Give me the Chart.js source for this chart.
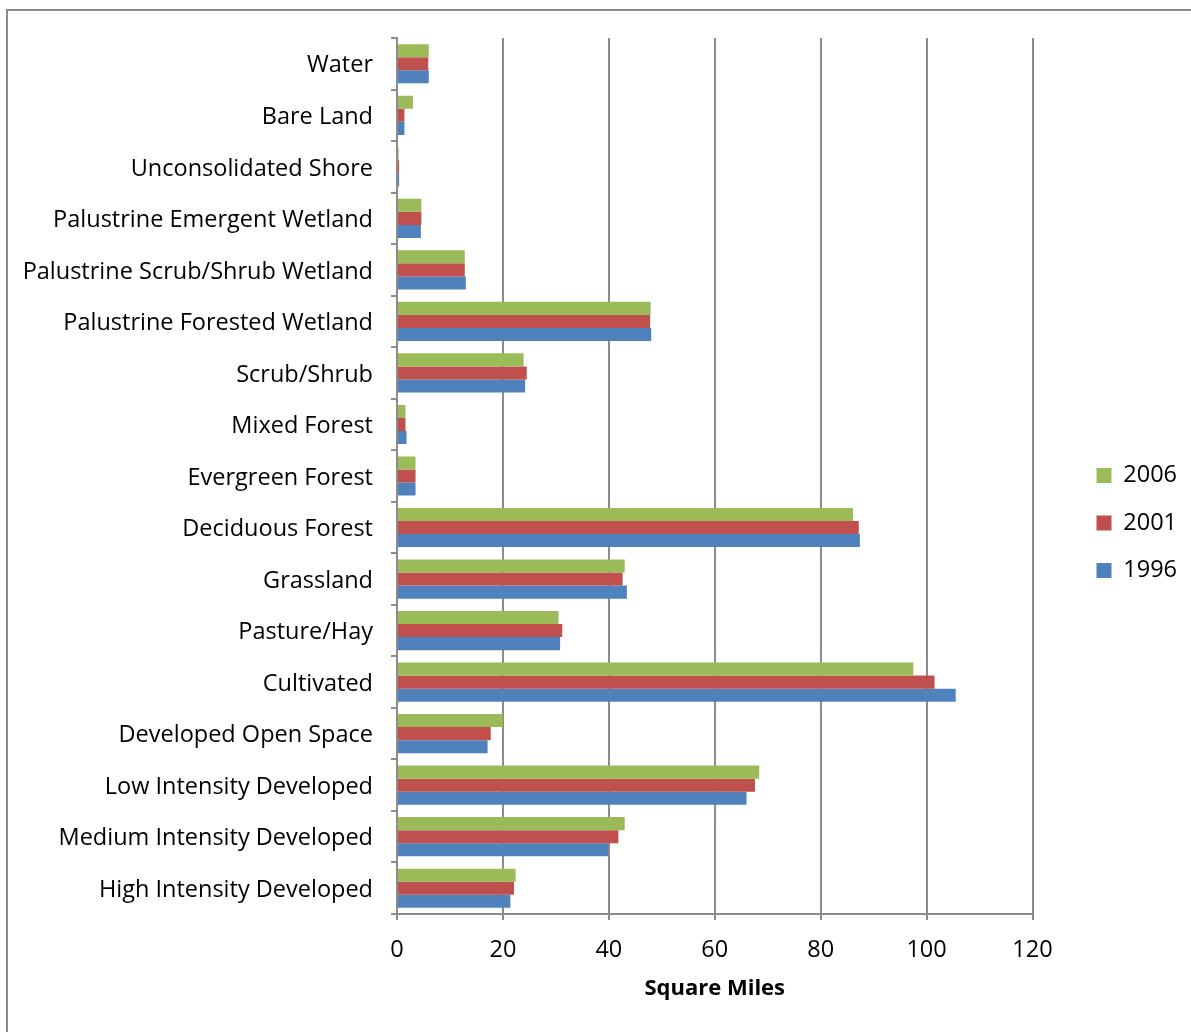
<!DOCTYPE html>
<html>
<head>
<meta charset="utf-8">
<script src="https://cdn.jsdelivr.net/npm/chart.js@4/dist/chart.umd.min.js"></script>
<style>
  html, body { margin: 0; padding: 0; background: #fff; overflow: hidden; }
  #frame { position: absolute; left: 6px; top: 9px; width: 1300px; height: 1200px; border: 2px solid #8c8c8c; box-sizing: border-box; }
  #wrap { position: absolute; left: 0; top: 0; width: 1191px; height: 1032px; }
</style>
</head>
<body>
<div id="frame"></div>
<div id="wrap"><canvas id="c"></canvas></div>
<script>
const categories = [
  "Water", "Bare Land", "Unconsolidated Shore", "Palustrine Emergent Wetland",
  "Palustrine Scrub/Shrub Wetland", "Palustrine Forested Wetland", "Scrub/Shrub",
  "Mixed Forest", "Evergreen Forest", "Deciduous Forest", "Grassland", "Pasture/Hay",
  "Cultivated", "Developed Open Space", "Low Intensity Developed",
  "Medium Intensity Developed", "High Intensity Developed"
];
const seriesNames = ["2006", "2001", "1996"];
const values2006 = [6.0, 3.0, 0.3, 4.6, 12.8, 47.9, 23.9, 1.6, 3.5, 86.1, 43.0, 30.5, 97.5, 20.0, 68.4, 43.0, 22.4];
const values2001 = [5.9, 1.4, 0.4, 4.6, 12.8, 47.8, 24.5, 1.6, 3.5, 87.2, 42.6, 31.2, 101.5, 17.7, 67.6, 41.8, 22.1];
const values1996 = [6.0, 1.4, 0.4, 4.5, 13.0, 48.0, 24.2, 1.8, 3.5, 87.4, 43.4, 30.8, 105.5, 17.1, 66.0, 39.9, 21.4];
const xTicks = [0, 20, 40, 60, 80, 100, 120];
const colors = ["#9BBB59", "#C0504D", "#4F81BD"];

const FONT = "'Open Sans', Lato, sans-serif";
const FS = 23.5;
const GRID = "#8c8c8c";

new Chart(document.getElementById("c"), {
  type: "bar",
  data: {
    labels: categories,
    datasets: [values2006, values2001, values1996].map((d, i) => ({
      label: seriesNames[i],
      data: d,
      backgroundColor: colors[i],
      borderWidth: 0,
      categoryPercentage: 0.76,
      barPercentage: 1.0
    }))
  },
  options: {
    indexAxis: "y",
    responsive: true,
    maintainAspectRatio: false,
    animation: false,
    layout: { padding: { top: 38, bottom: 24, left: 0, right: 4 } },
    plugins: {
      tooltip: { enabled: false },
      legend: {
        position: "right",
        labels: {
          font: { family: FONT, size: FS },
          color: "#000",
          boxWidth: 15,
          boxHeight: 15,
          padding: 24
        }
      }
    },
    scales: {
      y: {
        type: "category",
        afterFit: s => { s.width = 397; },
        grid: {
          offset: true,
          drawOnChartArea: false,
          drawTicks: true,
          tickLength: 6,
          color: GRID,
          lineWidth: 2
        },
        border: { display: true, color: GRID, width: 2 },
        ticks: {
          font: { family: FONT, size: FS },
          color: "#000",
          padding: 18,
          labelOffset: 2,
          autoSkip: false
        }
      },
      spacer: {
        type: "linear",
        position: "right",
        axis: "y",
        display: true,
        afterFit: s => { s.width = 40; },
        grid: { display: false, drawTicks: false },
        border: { display: false },
        ticks: { display: false }
      },
      x: {
        min: 0,
        max: 120,
        afterFit: s => { s.height = 94; },
        afterBuildTicks: s => { s.ticks = xTicks.map(v => ({ value: v })); },
        grid: {
          drawOnChartArea: true,
          drawTicks: true,
          tickLength: 6,
          color: GRID,
          lineWidth: 2
        },
        border: { display: true, color: GRID, width: 2 },
        ticks: {
          font: { family: FONT, size: FS },
          color: "#000",
          padding: 16,
          maxRotation: 0
        },
        title: {
          display: true,
          text: "Square Miles",
          font: { family: FONT, size: 22, weight: "bold" },
          color: "#000",
          padding: { top: 4, bottom: 6 }
        }
      }
    }
  }
});
</script>
</body>
</html>
